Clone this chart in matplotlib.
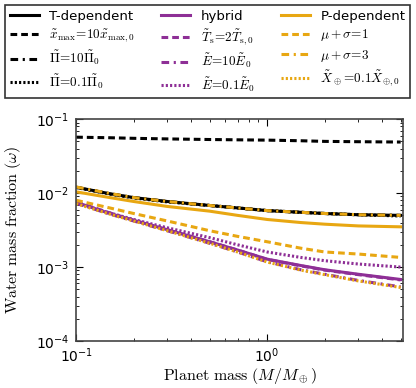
import matplotlib
matplotlib.use('Agg')
import matplotlib.pyplot as plt
from matplotlib.ticker import FuncFormatter, NullFormatter
import numpy as np

plt.rcParams['mathtext.fontset'] = 'cm'

BLACK = 'black'
PURPLE = '#8E2F96'
ORANGE = '#E8A712'

# planet mass (Earth masses)
mass = [0.1, 0.15, 0.2, 0.3, 0.5, 0.7, 1.0, 1.5, 2.0, 3.0, 5.0]

# water mass fractions
t_dep = [0.0120, 0.0098, 0.0087, 0.0077, 0.0068, 0.0063, 0.0058, 0.0055, 0.0053, 0.0051, 0.0050]
t_xmax10 = [0.057, 0.056, 0.055, 0.054, 0.053, 0.0525, 0.052, 0.051, 0.050, 0.0495, 0.049]
t_pi10 = [0.0120, 0.0098, 0.0087, 0.0077, 0.0068, 0.0063, 0.0058, 0.0055, 0.0053, 0.0051, 0.0050]
t_pi01 = [0.0119, 0.0097, 0.0086, 0.0076, 0.0068, 0.0063, 0.0058, 0.0055, 0.0053, 0.0051, 0.0049]

hyb = [0.0075, 0.0053, 0.0043, 0.0032, 0.0022, 0.0017, 0.00128, 0.00105, 0.00092, 0.00080, 0.00068]
hyb_ts2 = [0.0076, 0.0054, 0.0043, 0.0032, 0.0022, 0.0017, 0.00127, 0.00104, 0.00091, 0.00079, 0.00067]
hyb_e10 = [0.0073, 0.0052, 0.0042, 0.0031, 0.0021, 0.0016, 0.00118, 0.00092, 0.00080, 0.00066, 0.00054]
hyb_e01 = [0.0074, 0.0054, 0.0044, 0.0034, 0.0025, 0.0020, 0.0016, 0.00135, 0.00122, 0.00110, 0.00100]

p_dep = [0.0104, 0.0087, 0.0077, 0.0066, 0.0057, 0.0050, 0.0044, 0.0040, 0.0038, 0.0036, 0.0035]
p_ms1 = [0.0080, 0.0063, 0.0053, 0.0042, 0.0031, 0.0026, 0.0022, 0.0018, 0.0016, 0.0015, 0.00135]
p_ms3 = [0.0121, 0.0099, 0.0087, 0.0077, 0.0068, 0.0063, 0.0058, 0.0055, 0.0053, 0.0051, 0.0050]
p_x01 = [0.0072, 0.0052, 0.0042, 0.0031, 0.0021, 0.0016, 0.00117, 0.00091, 0.00079, 0.00065, 0.00053]

DOT = (0, (0.7, 0.7))
DASHDOT = (0, (2.5, 1.5, 0.7, 1.5))
DASH = (0, (2.2, 1.3))

series = [
    (t_dep, BLACK, '-', 'T-dependent'),
    (t_xmax10, BLACK, DASH, r'$\tilde{x}_{\rm max}\!=\!10\tilde{x}_{\rm max,0}$'),
    (t_pi10, BLACK, DASHDOT, r'$\tilde{\Pi}\!=\!10\tilde{\Pi}_0$'),
    (t_pi01, BLACK, DOT, r'$\tilde{\Pi}\!=\!0.1\tilde{\Pi}_0$'),
    (hyb, PURPLE, '-', 'hybrid'),
    (hyb_ts2, PURPLE, DASH, r'$\tilde{T}_{\rm s}\!=\!2\tilde{T}_{\rm s,0}$'),
    (hyb_e10, PURPLE, DASHDOT, r'$\tilde{E}\!=\!10\tilde{E}_0$'),
    (hyb_e01, PURPLE, DOT, r'$\tilde{E}\!=\!0.1\tilde{E}_0$'),
    (p_dep, ORANGE, '-', 'P-dependent'),
    (p_ms1, ORANGE, DASH, r'$\mu+\sigma\!=\!1$'),
    (p_ms3, ORANGE, DASHDOT, r'$\mu+\sigma\!=\!3$'),
    (p_x01, ORANGE, DOT, r'$\tilde{X}_\oplus\!=\!0.1\tilde{X}_{\oplus,0}$'),
]

fig = plt.figure(figsize=(4.16, 3.88), dpi=100)
ax = fig.add_axes([0.183, 0.121, 0.786, 0.572])

handles = []
for ys, col, ls, lab in series:
    h, = ax.plot(mass, ys, color=col, linestyle=ls, linewidth=2.2, label=lab)
    handles.append(h)

ax.set_xscale('log')
ax.set_yscale('log')
ax.set_xlim(0.1, 5.15)
ax.set_ylim(1e-4, 1e-1)

def fmt(v, pos):
    e = int(round(np.log10(v)))
    return r'$\mathdefault{10^{%d}}$' % e

ax.xaxis.set_major_formatter(FuncFormatter(fmt))
ax.yaxis.set_major_formatter(FuncFormatter(fmt))
ax.xaxis.set_minor_formatter(NullFormatter())
ax.yaxis.set_minor_formatter(NullFormatter())
ax.tick_params(which='both', direction='in', top=True, right=True, labelsize=10)
ax.tick_params(which='major', length=5)
ax.tick_params(which='minor', length=2.5)
ax.tick_params(axis='x', pad=4)
ax.tick_params(axis='y', pad=5)
for s in ax.spines.values():
    s.set_color('#444444')
    s.set_linewidth(1.2)

ax.set_xlabel(r'$\mathrm{Planet\ mass}\ (M/M_\oplus)$', fontsize=11.5)
ax.set_ylabel(r'$\mathrm{Water\ mass\ fraction}\ (\omega)$', fontsize=11.5)
ax.xaxis.set_label_coords(0.5, -0.115)
ax.yaxis.set_label_coords(-0.162, 0.5)

leg = fig.legend(handles=handles, loc='upper left',
                 bbox_to_anchor=(5 / 416, 1 - 101 / 388, 405 / 416, 96 / 388),
                 mode='expand', ncol=3, fontsize=9.5, frameon=True, fancybox=False,
                 handlelength=2.2, columnspacing=1.0, labelspacing=0.35,
                 borderpad=0.35, borderaxespad=0)
leg.get_frame().set_edgecolor('black')
leg.get_frame().set_linewidth(1.2)

fig.savefig('out.png', dpi=100)
